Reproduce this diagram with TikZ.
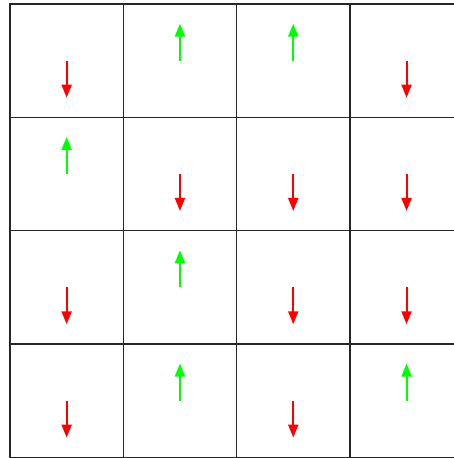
\documentclass[tikz,border=0pt]{standalone}
\usetikzlibrary{arrows.meta}
\definecolor{spinup}{RGB}{0,255,0}
\definecolor{spindown}{RGB}{255,0,0}
\tikzset{
  cell/.style={draw=black!85, line width=1.3pt, minimum size=113.3pt, inner sep=0pt, outer sep=0pt, anchor=north west},
  spinarrow/.style={line width=2pt, -{Triangle[width=10pt,length=13pt]}},
  upspin/.style={spinarrow, draw=spinup, fill=spinup},
  downspin/.style={spinarrow, draw=spindown, fill=spindown}
}
\begin{document}
\begin{tikzpicture}[x=1pt,y=1pt]
\useasboundingbox (0,0) rectangle (454,-458);
\foreach \r in {1,...,4}{
  \foreach \c in {1,...,4}{
    \node[cell] (c-\r-\c) at ({10+(\c-1)*113.3},{-4-(\r-1)*113.3}) {};
  }
}
% spins: row by row, top to bottom; 1 = up, 0 = down
\foreach \r/\c/\s in {1/1/0,1/2/1,1/3/1,1/4/0,
                      2/1/1,2/2/0,2/3/0,2/4/0,
                      3/1/0,3/2/1,3/3/0,3/4/0,
                      4/1/0,4/2/1,4/3/0,4/4/1}{
  \ifnum\s=1
    \draw[upspin] (c-\r-\c.center) -- ([yshift=37pt]c-\r-\c.center);
  \else
    \draw[downspin] (c-\r-\c.center) -- ([yshift=-37pt]c-\r-\c.center);
  \fi
}
\end{tikzpicture}
\end{document}
